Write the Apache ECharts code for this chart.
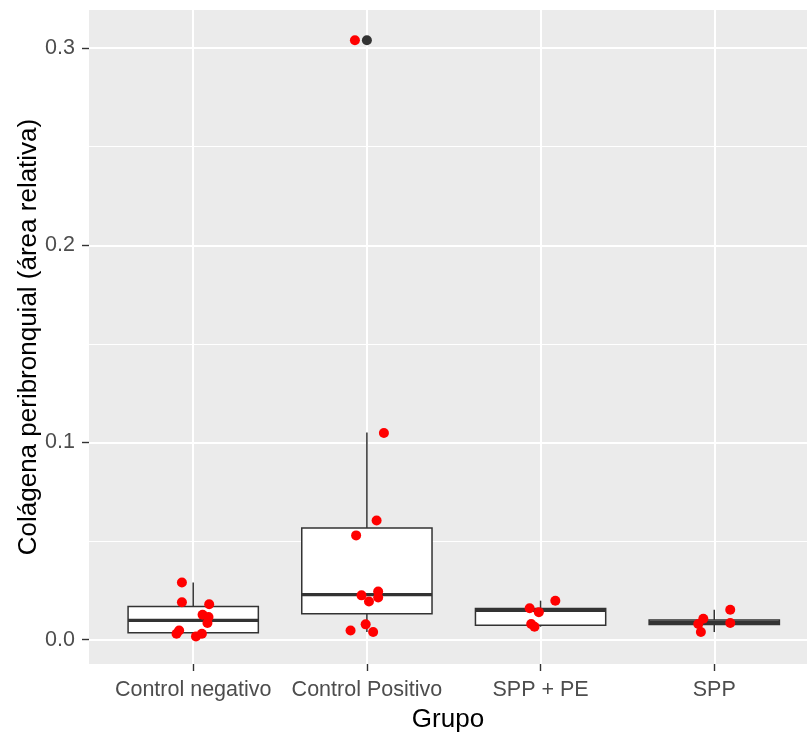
<!DOCTYPE html>
<html>
<head>
<meta charset="utf-8">
<script src="https://cdn.jsdelivr.net/npm/echarts@6/dist/echarts.min.js"></script>
<style>
html,body{margin:0;padding:0;background:#fff;}
#chart{width:807px;height:736px;}
</style>
</head>
<body>
<div id="chart"></div>
<script>
// ---- data ----
var categories = ['Control negativo', 'Control Positivo', 'SPP + PE', 'SPP'];
var yMajorTicks = [0, 0.1, 0.2, 0.3];
var yMinorTicks = [0.05, 0.15, 0.25];

// box statistics per group
var boxLow  = [0.0017, 0.0039, 0.0066, 0.0039];
var boxQ1   = [0.0036, 0.0132, 0.0073, 0.0077];
var boxMed  = [0.0098, 0.0229, 0.0149, 0.0088];
var boxQ3   = [0.0168, 0.0566, 0.0158, 0.0100];
var boxHigh = [0.0290, 0.1051, 0.0198, 0.0152];

// outliers (group index, value)
var outlierGroup = [1];
var outlierValue = [0.304];

// jittered observations per group (value, horizontal jitter in category units)
var negValues = [0.029, 0.019, 0.018, 0.0127, 0.0115, 0.0085, 0.0047, 0.003, 0.0017, 0.003];
var negJitter = [-0.065, -0.065, 0.092, 0.054, 0.088, 0.082, -0.081, -0.096, 0.016, 0.05];
var posValues = [0.304, 0.1048, 0.0605, 0.0529, 0.0245, 0.0225, 0.0214, 0.0194, 0.0078, 0.0047, 0.0039];
var posJitter = [-0.069, 0.098, 0.056, -0.062, 0.065, -0.031, 0.065, 0.012, -0.007, -0.094, 0.036];
var sppPeValues = [0.0198, 0.016, 0.014, 0.008, 0.0066];
var sppPeJitter = [0.085, -0.063, -0.01, -0.054, -0.035];
var sppValues = [0.0152, 0.0085, 0.0106, 0.008, 0.0039];
var sppJitter = [0.092, 0.092, -0.063, -0.092, -0.077];

// ---- build series data ----
var groupsValues = [negValues, posValues, sppPeValues, sppValues];
var groupsJitter = [negJitter, posJitter, sppPeJitter, sppJitter];
var pointData = [];
groupsValues.forEach(function (vals, g) {
  vals.forEach(function (v, i) { pointData.push([g + groupsJitter[g][i], v]); });
});
var boxData = categories.map(function (c, i) {
  return [i, boxLow[i], boxQ1[i], boxMed[i], boxQ3[i], boxHigh[i]];
});
var outlierData = outlierGroup.map(function (g, i) { return [g, outlierValue[i]]; });

var FONT = "'Liberation Sans', Arial, sans-serif";
var chart = echarts.init(document.getElementById('chart'), null, {renderer: 'canvas'});

var boxWidth = 0.75;
function renderBox(params, api) {
  var x = api.value(0);
  var pLow = api.coord([x, api.value(1)]);
  var pQ1 = api.coord([x, api.value(2)]);
  var pMed = api.coord([x, api.value(3)]);
  var pQ3 = api.coord([x, api.value(4)]);
  var pHigh = api.coord([x, api.value(5)]);
  var w = api.size([boxWidth, 0])[0];
  var cx = pMed[0];
  var stroke = {stroke: '#333333', lineWidth: 1.5};
  return {
    type: 'group',
    children: [
      {type: 'line', shape: {x1: cx, y1: pHigh[1], x2: cx, y2: pQ3[1]}, style: stroke},
      {type: 'line', shape: {x1: cx, y1: pQ1[1], x2: cx, y2: pLow[1]}, style: stroke},
      {type: 'rect', shape: {x: cx - w / 2, y: pQ3[1], width: w, height: pQ1[1] - pQ3[1]},
        style: {fill: '#FFFFFF', stroke: '#333333', lineWidth: 1.5}},
      {type: 'line', shape: {x1: cx - w / 2, y1: pMed[1], x2: cx + w / 2, y2: pMed[1]},
        style: {stroke: '#333333', lineWidth: 3.2}}
    ]
  };
}

var option = {
  backgroundColor: '#FFFFFF',
  animation: false,
  grid: {
    left: 89, top: 10, right: 0, bottom: 72,
    containLabel: false, outerBoundsMode: 'none',
    show: true, backgroundColor: '#EBEBEB', borderWidth: 0
  },
  xAxis: {
    type: 'value', min: -0.6, max: 3.534,
    name: 'Grupo', nameLocation: 'middle', nameGap: 43, nameMoveOverlap: false,
    nameTextStyle: {fontFamily: FONT, fontSize: 26, color: '#000000'},
    axisLine: {show: false, onZero: false},
    axisTick: {show: true, length: 7, customValues: [0, 1, 2, 3], lineStyle: {color: '#333333', width: 1.4}},
    axisLabel: {
      customValues: [0, 1, 2, 3], margin: 15,
      fontFamily: FONT, fontSize: 21.5, color: '#4D4D4D',
      formatter: function (v) { return categories[Math.round(v)]; }
    },
    splitLine: {show: true, lineStyle: {color: '#FFFFFF', width: 2}}
  },
  yAxis: [{
    type: 'value', min: -0.0123, max: 0.3193,
    name: 'Colágena peribronquial (área relativa)', nameLocation: 'middle', nameGap: 47, nameMoveOverlap: false,
    nameTextStyle: {fontFamily: FONT, fontSize: 26, color: '#000000'},
    axisLine: {show: false, onZero: false},
    axisTick: {show: true, length: 7, customValues: yMajorTicks, lineStyle: {color: '#333333', width: 1.4}},
    axisLabel: {
      customValues: yMajorTicks, margin: 14,
      fontFamily: FONT, fontSize: 21.5, color: '#4D4D4D',
      formatter: function (v) { return v.toFixed(1); }
    },
    splitLine: {show: true, lineStyle: {color: '#FFFFFF', width: 2}}
  }, {
    type: 'value', min: -0.0123, max: 0.3193, position: 'left',
    axisLine: {show: false, onZero: false},
    axisTick: {show: false, customValues: yMinorTicks},
    axisLabel: {show: false, customValues: yMinorTicks},
    splitLine: {show: true, lineStyle: {color: '#FFFFFF', width: 1}}
  }],
  series: [{
    type: 'custom', name: 'box', renderItem: renderBox, data: boxData,
    encode: {x: 0, y: [1, 2, 3, 4, 5]}, z: 2, silent: true
  }, {
    type: 'scatter', name: 'outlier', data: outlierData, symbol: 'circle', symbolSize: 10,
    itemStyle: {color: '#333333', opacity: 1}, z: 3, silent: true
  }, {
    type: 'scatter', name: 'points', data: pointData, symbol: 'circle', symbolSize: 10,
    itemStyle: {color: '#FF0000', opacity: 1}, z: 4, silent: true
  }]
};
chart.setOption(option);
</script>
</body>
</html>
